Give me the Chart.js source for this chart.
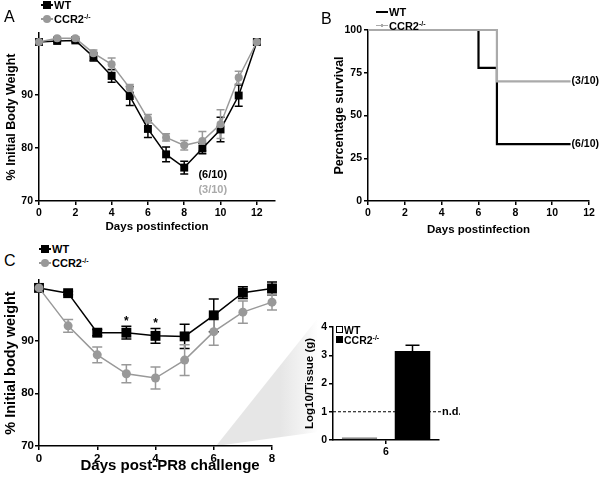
<!DOCTYPE html>
<html>
<head>
<meta charset="utf-8">
<script src="https://cdn.jsdelivr.net/npm/chart.js@4.4.1/dist/chart.umd.min.js"></script>
<style>
body { margin:0; background:#fff; width:600px; height:477px; position:relative; overflow:hidden; font-family:"Liberation Sans", Arial, sans-serif; }
canvas { position:absolute; }
.letter { position:absolute; font-size:16px; color:#000; }
.leg { position:absolute; font-size:11px; font-weight:bold; line-height:14px; white-space:nowrap; z-index:5; }
.leg sup { font-size:7px; vertical-align:4px; line-height:0; }
.mk { display:inline-block; position:relative; width:12px; height:10px; vertical-align:-1px; margin-right:1px; }
.mk i { position:absolute; left:0; right:0; top:4px; height:1.5px; }
.mk b { position:absolute; left:2px; top:1px; width:8px; height:8px; }
.wedge { position:absolute; left:0; top:0; width:600px; height:477px;
  clip-path: polygon(216px 446px, 318px 318px, 318px 432px);
  background: linear-gradient(to right, #e6e6e6 0px, #e6e6e6 280px, #f4f4f4 305px, #ffffff 318px); }
</style>
</head>
<body>
<div class="wedge"></div>

<canvas id="chartA" width="290" height="217" style="left:0;top:20px"></canvas>
<canvas id="chartB" width="300" height="220" style="left:300px;top:20px"></canvas>
<canvas id="chartC" width="290" height="207" style="left:0;top:270px"></canvas>
<canvas id="chartD" width="170" height="150" style="left:290px;top:310px"></canvas>

<div class="letter" style="left:4px;top:8px">A</div>
<div class="letter" style="left:321px;top:10px">B</div>
<div class="letter" style="left:4px;top:252px">C</div>

<div class="leg" style="left:41px;top:-2px">
  <div><span class="mk"><i style="background:#000"></i><b style="background:#000"></b></span>WT</div>
  <div><span class="mk"><i style="background:#999"></i><b style="background:#999;border-radius:50%"></b></span>CCR2<sup>-/-</sup></div>
</div>
<div class="leg" style="left:376px;top:5px">
  <div><span class="mk"><i style="background:#000;height:2px"></i></span>WT</div>
  <div><span class="mk"><i style="background:#aaa;height:1px"></i><b style="background:#aaa;left:5px;top:3px;width:2px;height:3px"></b></span>CCR2<sup>-/-</sup></div>
</div>
<div class="leg" style="left:39px;top:242px">
  <div><span class="mk"><i style="background:#000"></i><b style="background:#000"></b></span>WT</div>
  <div><span class="mk"><i style="background:#999"></i><b style="background:#999;border-radius:50%"></b></span>CCR2<sup>-/-</sup></div>
</div>
<div class="leg" style="left:336px;top:325px;line-height:10px;font-size:10.5px">
  <div><span class="mk" style="width:7px;margin-right:1px"><b style="left:0;top:1px;width:5px;height:5px;border:1px solid #000;background:#fff"></b></span>WT</div>
  <div><span class="mk" style="width:7px;margin-right:1px"><b style="left:0;top:1px;width:7px;height:7px;background:#000"></b></span>CCR2<sup>-/-</sup></div>
</div>

<script>
// Panel A - weight after infection
const daysA = [0, 1, 2, 3, 4, 5, 6, 7, 8, 9, 10, 11, 12];
const wtA = [100, 100.2, 100.3, 97.2, 93.6, 89.8, 83.6, 78.8, 76.3, 79.9, 83.5, 89.9, 100];
const wtErrA = [0, 0.3, 0.3, 0.8, 1.2, 1.8, 1.6, 1.4, 1.2, 1.0, 2.3, 2.0, 0];
const koA = [100, 100.7, 100.7, 97.9, 95.8, 91.3, 85.5, 82.0, 80.5, 81.3, 84.5, 93.3, 100];
const koErrA = [0, 0.3, 0.3, 0.6, 1.2, 0.7, 0.8, 0.7, 0.9, 1.8, 2.7, 1.2, 0];

// Panel B - survival
const survDaysWT = [0, 6, 7, 11];
const survWT = [100, 77.8, 33.3, 33.3];
const survDaysKO = [0, 7, 11];
const survKO = [100, 70, 70];

// Panel C - weight after PR8 challenge
const daysC = [0, 1, 2, 3, 4, 5, 6, 7, 8];
const wtC = [100, 99.0, 91.5, 91.5, 90.9, 90.8, 94.8, 99.1, 99.9];
const wtErrC = [0, 0.3, 0.6, 1.2, 1.4, 2.3, 3.1, 1.1, 1.2];
const koC = [100, 92.8, 87.3, 83.7, 82.9, 86.3, 91.7, 95.4, 97.3];
const koErrC = [0, 1.2, 1.5, 1.7, 2.1, 2.9, 2.6, 2.1, 1.5];

// Panel D - titre at day 6
const dayD = ['6'];
const wtD = [0.1];
const koD = [3.15];
const koErrD = [0.2];
const limitD = 1;

const FONT = '"Liberation Sans", Arial, sans-serif';
const pts = (xs, ys) => xs.map((x, i) => ({ x: x, y: ys[i] }));

// draws error bars under the markers
const errorBars = {
  id: 'errorBars',
  beforeDatasetsDraw(chart) {
    const ctx = chart.ctx;
    chart.data.datasets.forEach((ds, i) => {
      if (!ds.errors) return;
      const meta = chart.getDatasetMeta(i);
      const yScale = chart.scales[meta.yAxisID];
      ctx.save();
      ctx.strokeStyle = ds.errorColor;
      ctx.lineWidth = 1.5;
      meta.data.forEach((el, j) => {
        const e = ds.errors[j];
        if (!e) return;
        const d = ds.data[j];
        const v = typeof d === 'object' ? d.y : d;
        const top = yScale.getPixelForValue(v + e);
        const bot = ds.upOnly ? yScale.getPixelForValue(v) : yScale.getPixelForValue(v - e);
        const w = ds.capWidth / 2;
        ctx.beginPath();
        ctx.moveTo(el.x, top); ctx.lineTo(el.x, bot);
        ctx.moveTo(el.x - w, top); ctx.lineTo(el.x + w, top);
        if (!ds.upOnly) { ctx.moveTo(el.x - w, bot); ctx.lineTo(el.x + w, bot); }
        ctx.stroke();
      });
      ctx.restore();
    });
  }
};

// text labels and reference lines placed in data units
const notes = {
  id: 'notes',
  afterDraw(chart, args, opts) {
    const ctx = chart.ctx;
    const xs = chart.scales.x, ys = chart.scales.y;
    (opts.lines || []).forEach(l => {
      const y = ys.getPixelForValue(l.y);
      ctx.save();
      ctx.setLineDash([3, 2]);
      ctx.strokeStyle = '#000';
      ctx.lineWidth = 1;
      ctx.beginPath();
      ctx.moveTo(chart.chartArea.left, y);
      ctx.lineTo(chart.chartArea.right + 2, y);
      ctx.stroke();
      ctx.restore();
      if (l.label) {
        ctx.save();
        ctx.font = 'bold 11px ' + FONT;
        ctx.fillStyle = '#000';
        ctx.textBaseline = 'middle';
        ctx.fillText(l.label, chart.chartArea.right + 3, y);
        ctx.restore();
      }
    });
    (opts.items || []).forEach(t => {
      ctx.save();
      ctx.font = 'bold ' + (t.size || 11) + 'px ' + FONT;
      ctx.fillStyle = t.color || '#000';
      ctx.textAlign = t.align || 'left';
      ctx.textBaseline = 'middle';
      const y = t.below !== undefined ? chart.chartArea.bottom + t.below : ys.getPixelForValue(t.y) + (t.dy || 0);
      ctx.fillText(t.text, xs.getPixelForValue(t.x) + (t.dx || 0), y);
      ctx.restore();
    });
  }
};

function axis(extra, titleText, titleSize, tickSize) {
  const a = Object.assign({
    border: { display: true, color: '#000', width: 1.5 },
    grid: { display: true, drawOnChartArea: false, drawTicks: true, tickLength: 4, color: '#000', lineWidth: 1.5 },
    ticks: { color: '#000', font: { family: FONT, size: tickSize || 10.5, weight: 'bold' }, padding: 2, maxRotation: 0, autoSkip: false }
  }, extra);
  if (titleText) {
    a.title = { display: true, text: titleText, color: '#000', padding: { top: 2, bottom: 3 },
      font: { family: FONT, size: titleSize || 11.5, weight: 'bold' } };
  }
  return a;
}

// place chart area exactly: canvas W x H, area in canvas px
function base(W, H, area, padLeft) {
  return {
    responsive: false,
    animation: false,
    events: [],
    layout: { padding: { left: padLeft, top: area.top, right: W - area.right, bottom: 0 } },
    plugins: { legend: { display: false }, tooltip: { enabled: false } },
    _yw: area.left - padLeft,
    _xh: H - area.bottom
  };
}
const fitW = w => s => { s.width = w; };
const fitH = h => s => { s.height = h; };
const keep = f => s => { s.ticks = s.ticks.filter(t => f(t.value)); };

// ---- A ----
const oA = base(290, 217, { left: 39, top: 13, right: 275, bottom: 181 }, 2);
oA.plugins.notes = { items: [
  { x: 8.78, y: 74.9, text: '(6/10)', color: '#000' },
  { x: 8.78, y: 72.1, text: '(3/10)', color: '#aaa' }
] };
oA.scales = {
  x: axis({ type: 'linear', min: 0, max: 13, afterFit: fitH(oA._xh), afterBuildTicks: keep(v => v % 2 === 0 && v <= 12) }, 'Days postinfection'),
  y: axis({ min: 70, max: 101.7, afterFit: fitW(oA._yw), afterBuildTicks: keep(v => v % 10 === 0) }, '% Initial Body Weight', 12.5)
};
oA.scales.x.ticks.stepSize = 2;
oA.scales.y.ticks.stepSize = 10;
new Chart(document.getElementById('chartA'), {
  type: 'line',
  data: { datasets: [
    { label: 'WT', data: pts(daysA, wtA), errors: wtErrA, errorColor: '#000', capWidth: 8, order: 1,
      borderColor: '#000', borderWidth: 1.5, pointStyle: 'rect', pointRadius: 5.6, pointBackgroundColor: '#000', pointBorderWidth: 0, clip: false },
    { label: 'CCR2-/-', data: pts(daysA, koA), errors: koErrA, errorColor: '#999', capWidth: 8, order: 0,
      borderColor: '#999', borderWidth: 1.5, pointStyle: 'circle', pointRadius: 4, pointBackgroundColor: '#999', pointBorderWidth: 0, clip: false }
  ] },
  options: oA,
  plugins: [errorBars, notes]
});

// ---- B ----
const oB = base(300, 220, { left: 68, top: 10, right: 289, bottom: 181 }, 30);
oB.plugins.notes = { items: [
  { x: 11, y: 70, text: '(3/10)', dx: 1, size: 10.5 },
  { x: 11, y: 33.3, text: '(6/10)', dx: 1, size: 10.5 }
] };
oB.scales = {
  x: axis({ type: 'linear', min: 0, max: 12, afterFit: fitH(oB._xh) }, 'Days postinfection'),
  y: axis({ min: 0, max: 100, afterFit: fitW(oB._yw) }, 'Percentage survival', 12.5)
};
oB.scales.x.ticks.stepSize = 2;
oB.scales.y.ticks.stepSize = 25;
new Chart(document.getElementById('chartB'), {
  type: 'line',
  data: { datasets: [
    { label: 'WT', data: pts(survDaysWT, survWT), stepped: 'before', order: 1,
      borderColor: '#000', borderWidth: 2.2, pointRadius: 0, clip: false },
    { label: 'CCR2-/-', data: pts(survDaysKO, survKO), stepped: 'before', order: 0,
      borderColor: '#aaa', borderWidth: 2.2, pointRadius: 0, clip: false }
  ] },
  options: oB,
  plugins: [notes]
});

// ---- C ----
const oC = base(290, 207, { left: 39, top: 10, right: 272, bottom: 176 }, 0);
oC.plugins.notes = { items: [
  { x: 3, y: wtC[3] + wtErrC[3], text: '*', align: 'center', dy: -5, size: 12 },
  { x: 4, y: wtC[4] + wtErrC[4], text: '*', align: 'center', dy: -5, size: 12 },
  // x title sits right of centre in the original
  { x: 4.5, below: 20, text: 'Days post-PR8 challenge', align: 'center', size: 15 }
] };
oC.scales = {
  x: axis({ type: 'linear', min: 0, max: 8, afterFit: fitH(oC._xh) }, null, 15, 11.5),
  y: axis({ min: 70, max: 101.5, afterFit: fitW(oC._yw), afterBuildTicks: keep(v => v % 10 === 0) }, '% Initial body weight', 14.5, 11.5)
};
oC.scales.x.ticks.stepSize = 2;
oC.scales.y.ticks.stepSize = 10;
oC.scales.y.ticks.padding = 1;
new Chart(document.getElementById('chartC'), {
  type: 'line',
  data: { datasets: [
    { label: 'WT', data: pts(daysC, wtC), errors: wtErrC, errorColor: '#000', capWidth: 10, order: 1,
      borderColor: '#000', borderWidth: 1.5, pointStyle: 'rect', pointRadius: 7, pointBackgroundColor: '#000', pointBorderWidth: 0, clip: false },
    { label: 'CCR2-/-', data: pts(daysC, koC), errors: koErrC, errorColor: '#999', capWidth: 10, order: 0,
      borderColor: '#999', borderWidth: 1.5, pointStyle: 'circle', pointRadius: 4.5, pointBackgroundColor: '#999', pointBorderWidth: 0, clip: false }
  ] },
  options: oC,
  plugins: [errorBars, notes]
});

// ---- D ----
const oD = base(170, 150, { left: 43, top: 17, right: 149, bottom: 130 }, 11);
oD.plugins.notes = { lines: [{ y: limitD, label: 'n.d.' }] };
oD.scales = {
  x: axis({ afterFit: fitH(oD._xh) }),
  y: axis({ min: 0, max: 4, afterFit: fitW(oD._yw) }, 'Log10/Tissue (g)')
};
oD.scales.x.grid.offset = false;
oD.scales.y.ticks.stepSize = 1;
new Chart(document.getElementById('chartD'), {
  type: 'bar',
  data: { labels: dayD, datasets: [
    { label: 'WT', data: wtD, backgroundColor: '#fff', borderColor: '#888', borderWidth: 1.5, borderSkipped: false,
      barPercentage: 0.67, categoryPercentage: 1.0 },
    { label: 'CCR2-/-', data: koD, errors: koErrD, errorColor: '#000', capWidth: 14, upOnly: true,
      backgroundColor: '#000', borderColor: '#000', borderWidth: 0, barPercentage: 0.67, categoryPercentage: 1.0 }
  ] },
  options: oD,
  plugins: [errorBars, notes]
});
</script>
</body>
</html>
